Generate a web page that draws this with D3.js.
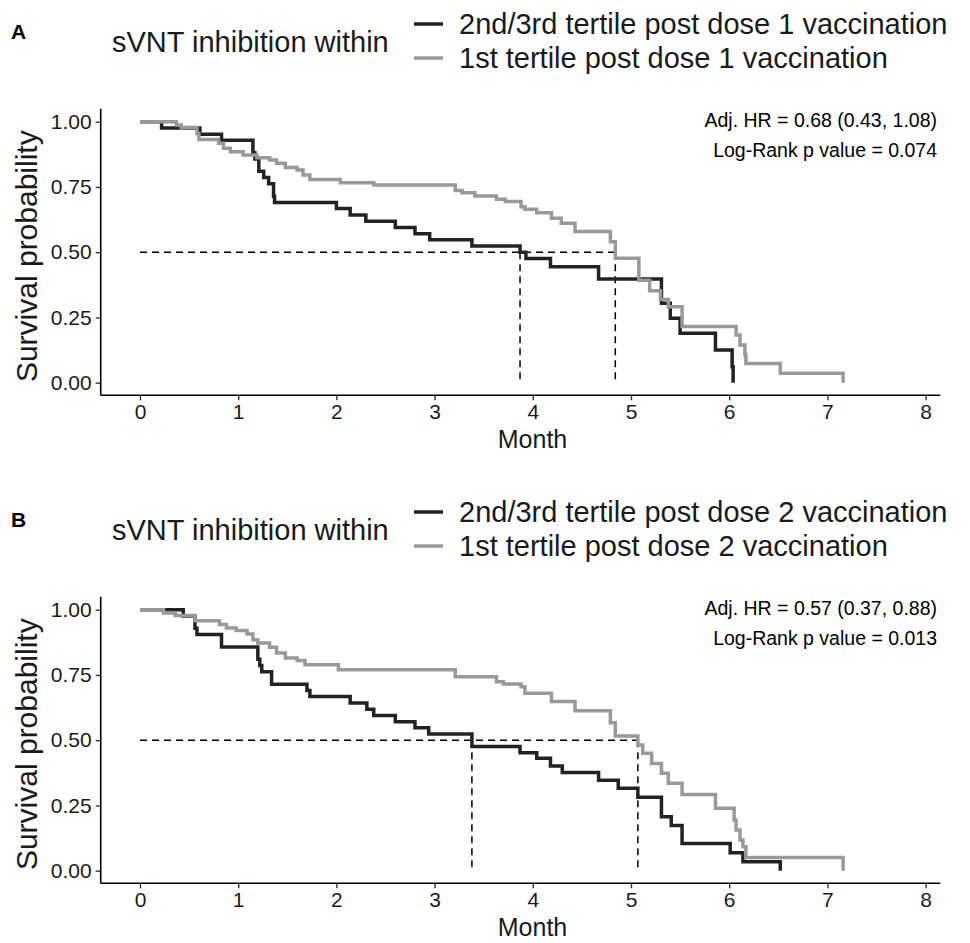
<!DOCTYPE html>
<html>
<head>
<meta charset="utf-8">
<script src="https://cdn.jsdelivr.net/npm/d3@7"></script>
<style>
  body { margin: 0; background: #fff; }
  text { font-family: "Liberation Sans", Arial, sans-serif; }
</style>
</head>
<body>
<div id="chart"></div>
<script>
// tick labels
var monthTicks = [0, 1, 2, 3, 4, 5, 6, 7, 8];
var survTicks = [0, 0.25, 0.5, 0.75, 1];

// panel A : post dose 1
var aHighTime = [0, 0.22, 0.61, 0.83, 1.15, 1.17, 1.21, 1.26, 1.31, 1.36, 1.37, 2.00, 2.14, 2.30, 2.60, 2.80, 2.95, 3.38, 3.87, 3.93, 4.18, 4.67, 5.31, 5.40, 5.50, 5.86, 6.03, 6.04];
var aHighSurv = [1, 0.976, 0.952, 0.929, 0.881, 0.857, 0.810, 0.786, 0.762, 0.714, 0.690, 0.667, 0.643, 0.619, 0.595, 0.571, 0.548, 0.524, 0.500, 0.476, 0.444, 0.397, 0.304, 0.247, 0.189, 0.125, 0.061, 0];
var aLowTime = [0, 0.37, 0.42, 0.58, 0.60, 0.80, 0.85, 0.92, 1.05, 1.19, 1.32, 1.39, 1.48, 1.60, 1.66, 1.73, 2.04, 2.38, 3.21, 3.28, 3.41, 3.63, 3.72, 3.88, 3.92, 4.04, 4.19, 4.29, 4.43, 4.79, 4.84, 5.08, 5.19, 5.30, 5.38, 5.52, 6.07, 6.11, 6.16, 6.17, 6.52, 7.16];
var aLowSurv = [1, 0.987, 0.978, 0.955, 0.932, 0.917, 0.898, 0.885, 0.872, 0.862, 0.853, 0.841, 0.825, 0.815, 0.796, 0.779, 0.766, 0.757, 0.736, 0.728, 0.715, 0.703, 0.694, 0.674, 0.665, 0.651, 0.630, 0.611, 0.579, 0.540, 0.477, 0.393, 0.352, 0.319, 0.291, 0.215, 0.183, 0.144, 0.106, 0.074, 0.036, 0];
var aMedians = [3.87, 4.84];

// panel B : post dose 2
var bHighTime = [0, 0.44, 0.56, 0.58, 0.83, 1.20, 1.22, 1.24, 1.34, 1.70, 1.73, 2.14, 2.31, 2.38, 2.60, 2.80, 2.94, 3.38, 3.87, 4.04, 4.18, 4.30, 4.67, 4.87, 5.07, 5.31, 5.41, 5.52, 6.01, 6.14, 6.52];
var bHighSurv = [1, 0.976, 0.929, 0.905, 0.857, 0.810, 0.786, 0.762, 0.714, 0.690, 0.667, 0.643, 0.619, 0.595, 0.571, 0.548, 0.524, 0.476, 0.452, 0.431, 0.401, 0.376, 0.347, 0.316, 0.281, 0.207, 0.173, 0.104, 0.069, 0.034, 0];
var bLowTime = [0, 0.24, 0.36, 0.56, 0.81, 0.88, 0.98, 1.09, 1.15, 1.20, 1.32, 1.39, 1.48, 1.60, 1.68, 2.02, 3.21, 3.63, 3.70, 3.88, 3.92, 4.19, 4.43, 4.79, 4.84, 5.07, 5.12, 5.21, 5.31, 5.38, 5.52, 5.86, 6.05, 6.07, 6.11, 6.14, 6.17, 7.16];
var bLowSurv = [1, 0.987, 0.978, 0.958, 0.943, 0.930, 0.920, 0.907, 0.885, 0.872, 0.856, 0.834, 0.815, 0.805, 0.789, 0.770, 0.743, 0.724, 0.715, 0.705, 0.680, 0.648, 0.613, 0.567, 0.516, 0.482, 0.450, 0.411, 0.373, 0.335, 0.292, 0.239, 0.194, 0.156, 0.118, 0.092, 0.051, 0];
var bMedians = [3.38, 5.07];

var panels = [
  { letter: "A", top: 0, high: [aHighTime, aHighSurv], low: [aLowTime, aLowSurv], medians: aMedians,
    labels: ["2nd/3rd tertile post dose 1 vaccination", "1st tertile post dose 1 vaccination"],
    hr: "Adj. HR = 0.68 (0.43, 1.08)", p: "Log-Rank p value = 0.074" },
  { letter: "B", top: 488, high: [bHighTime, bHighSurv], low: [bLowTime, bLowSurv], medians: bMedians,
    labels: ["2nd/3rd tertile post dose 2 vaccination", "1st tertile post dose 2 vaccination"],
    hr: "Adj. HR = 0.57 (0.37, 0.88)", p: "Log-Rank p value = 0.013" }
];

var darkCol = "#222222", greyCol = "#999999";

var svg = d3.select("#chart").append("svg")
    .attr("width", 970)
    .attr("height", 943);

var x = d3.scaleLinear().domain([0, 8]).range([140, 925.6]);

panels.forEach(function(p) {
  var g = svg.append("g").attr("transform", "translate(0," + p.top + ")");
  var y = d3.scaleLinear().domain([0, 1]).range([382.7, 121.7]);

  // panel letter
  g.append("text")
    .attr("x", 11).attr("y", 39)
    .style("font-size", "21px").style("font-weight", "bold")
    .text(p.letter);

  // legend
  g.append("text")
    .attr("x", 112).attr("y", 52)
    .style("font-size", "29px").attr("fill", "#1a1a1a")
    .text("sVNT inhibition within");
  [darkCol, greyCol].forEach(function(c, i) {
    g.append("line")
      .attr("x1", 414).attr("x2", 443)
      .attr("y1", 24 + i * 34).attr("y2", 24 + i * 34)
      .attr("stroke", c).attr("stroke-width", 3.5);
    g.append("text")
      .attr("x", 459).attr("y", 34 + i * 34)
      .style("font-size", "29px").attr("fill", "#1a1a1a")
      .text(p.labels[i]);
  });

  // annotations
  g.append("text")
    .attr("x", 937).attr("y", 127).attr("text-anchor", "end")
    .style("font-size", "19.5px")
    .text(p.hr);
  g.append("text")
    .attr("x", 937).attr("y", 157).attr("text-anchor", "end")
    .style("font-size", "19.5px")
    .text(p.p);

  // axes
  var xAxis = g.append("g")
    .attr("transform", "translate(0," + y(-0.048) + ")")
    .call(d3.axisBottom(x).tickValues(monthTicks).tickSize(5).tickPadding(4));
  xAxis.select(".domain").remove();
  xAxis.append("line")
    .attr("x1", x(-0.4)).attr("x2", x(8.15))
    .attr("stroke", "#000").attr("stroke-width", 1.6);
  xAxis.selectAll(".tick line").attr("stroke", "#333").attr("stroke-width", 1.4);
  xAxis.selectAll(".tick text").style("font-size", "21px").attr("fill", "#1a1a1a");

  var yAxis = g.append("g")
    .attr("transform", "translate(" + x(-0.4) + ",0)")
    .call(d3.axisLeft(y).tickValues(survTicks).tickFormat(d3.format(".2f")).tickSize(5).tickPadding(4));
  yAxis.select(".domain").remove();
  yAxis.append("line")
    .attr("y1", y(-0.048)).attr("y2", y(1.05))
    .attr("stroke", "#000").attr("stroke-width", 1.6);
  yAxis.selectAll(".tick line").attr("stroke", "#333").attr("stroke-width", 1.4);
  yAxis.selectAll(".tick text").style("font-size", "21px").attr("fill", "#1a1a1a");

  g.append("text")
    .attr("x", (x(-0.4) + x(8.15)) / 2 + 12).attr("y", 448)
    .attr("text-anchor", "middle")
    .style("font-size", "25px").attr("fill", "#1a1a1a")
    .text("Month");
  g.append("text")
    .attr("transform", "translate(37," + (y(0.5) + 4) + ") rotate(-90)")
    .attr("text-anchor", "middle")
    .style("font-size", "30px").attr("fill", "#1a1a1a")
    .text("Survival probability");

  // median lines
  var maxMed = d3.max(p.medians);
  g.append("line")
    .attr("x1", x(0)).attr("x2", x(maxMed))
    .attr("y1", y(0.5)).attr("y2", y(0.5))
    .attr("stroke", "#000").attr("stroke-width", 1.5)
    .attr("stroke-dasharray", "7,5");
  g.selectAll(".med")
    .data(p.medians)
    .enter().append("line")
    .attr("class", "med")
    .attr("x1", function(d) { return x(d); }).attr("x2", function(d) { return x(d); })
    .attr("y1", y(0.5)).attr("y2", y(0))
    .attr("stroke", "#000").attr("stroke-width", 1.5)
    .attr("stroke-dasharray", "7,5");

  // survival curves
  var line = d3.line()
    .x(function(d) { return x(d[0]); })
    .y(function(d) { return y(d[1]); })
    .curve(d3.curveStepAfter);
  [[p.high, darkCol], [p.low, greyCol]].forEach(function(s) {
    var pts = d3.zip(s[0][0], s[0][1]);
    g.append("path")
      .datum(pts)
      .attr("d", line)
      .attr("fill", "none")
      .attr("stroke", s[1])
      .attr("stroke-width", 3.5);
  });
});
</script>
</body>
</html>
